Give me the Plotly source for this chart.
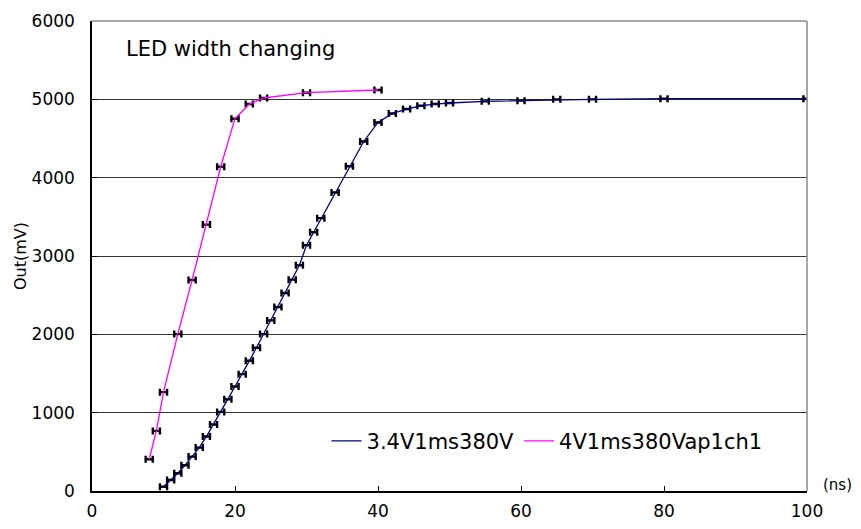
import plotly.graph_objects as go

# Blue series: 3.4V1ms380V
blue_x = [10, 11, 12, 13, 14, 15, 16, 17, 18, 19, 20, 21, 22, 23, 24, 25, 26, 27, 28, 29,
          30, 31, 32, 34, 36, 38, 40, 42, 44, 46, 48, 50, 55, 60, 65, 70, 80, 100]
blue_y = [55, 140, 226, 328, 439, 554, 695, 848, 1010, 1172, 1334, 1492, 1662, 1829, 2003,
          2178, 2349, 2528, 2698, 2881, 3137, 3303, 3483, 3810, 4145, 4462, 4705, 4820,
          4876, 4918, 4940, 4953, 4974, 4983, 5000, 5000, 5008, 5008]

# Magenta series: 4V1ms380Vap1ch1
mag_x = [8, 9, 10, 12, 14, 16, 18, 20, 22, 24, 30, 40]
mag_y = [405, 767, 1262, 2003, 2694, 3401, 4139, 4753, 4940, 5017, 5085, 5119]

err = 0.5
x_ticks = [0, 20, 40, 60, 80, 100]
y_ticks = [0, 1000, 2000, 3000, 4000, 5000, 6000]

font_family = "DejaVu Sans, Liberation Sans, Arial, sans-serif"

fig = go.Figure()
fig.add_trace(go.Scatter(
    x=blue_x, y=blue_y, mode="lines", name="3.4V1ms380V",
    line=dict(color="#000080", width=1.3),
    error_x=dict(type="constant", value=err, color="black", thickness=2.4, width=3.5),
))
fig.add_trace(go.Scatter(
    x=mag_x, y=mag_y, mode="lines", name="4V1ms380Vap1ch1",
    line=dict(color="#FF00FF", width=1.3),
    error_x=dict(type="constant", value=err, color="black", thickness=2.4, width=3.5),
))

fig.update_layout(
    width=853, height=521,
    margin=dict(l=84, r=54, t=13, b=38, autoexpand=False),
    paper_bgcolor="white", plot_bgcolor="white",
    font=dict(family=font_family, size=17, color="black"),
    showlegend=True,
    legend=dict(orientation="h", x=0.328, y=0.106, xanchor="left", yanchor="middle",
                bgcolor="rgba(0,0,0,0)", font=dict(size=21), itemwidth=30,
                tracegroupgap=0),
    xaxis=dict(range=[0, 100], tickvals=x_ticks, ticks="inside", ticklen=5,
               tickcolor="black", showline=True, linecolor="black", linewidth=1.5,
               showgrid=False, zeroline=False, mirror=False,
               ticklabelstandoff=4,
               tickfont=dict(size=17)),
    yaxis=dict(range=[0, 6000], tickvals=y_ticks, ticks="inside", ticklen=5,
               tickcolor="black", showline=True, linecolor="black", linewidth=1.5,
               showgrid=True, gridcolor="#333333", gridwidth=1, zeroline=False,
               ticklabelstandoff=12,
               tickfont=dict(size=17)),
    shapes=[
        dict(type="line", xref="paper", yref="paper", x0=0, x1=1, y0=1, y1=1,
             line=dict(color="#888888", width=1.5)),
        dict(type="line", xref="paper", yref="paper", x0=1, x1=1, y0=0, y1=1,
             line=dict(color="#888888", width=1.5)),
    ],
    annotations=[
        dict(text="LED width changing", xref="paper", yref="paper", x=0.0448, y=0.940,
             xanchor="left", yanchor="middle", showarrow=False, font=dict(size=21)),
        dict(text="Out(mV)", xref="paper", yref="paper", x=0, y=0.5, xshift=-72,
             xanchor="center", yanchor="middle", textangle=-90, showarrow=False,
             font=dict(size=16)),
        dict(text="(ns)", xref="paper", yref="paper", x=1.0, y=0.012,
             xanchor="left", yanchor="middle", xshift=14, showarrow=False, font=dict(size=15)),
    ],
)

fig.write_html("out.html")
